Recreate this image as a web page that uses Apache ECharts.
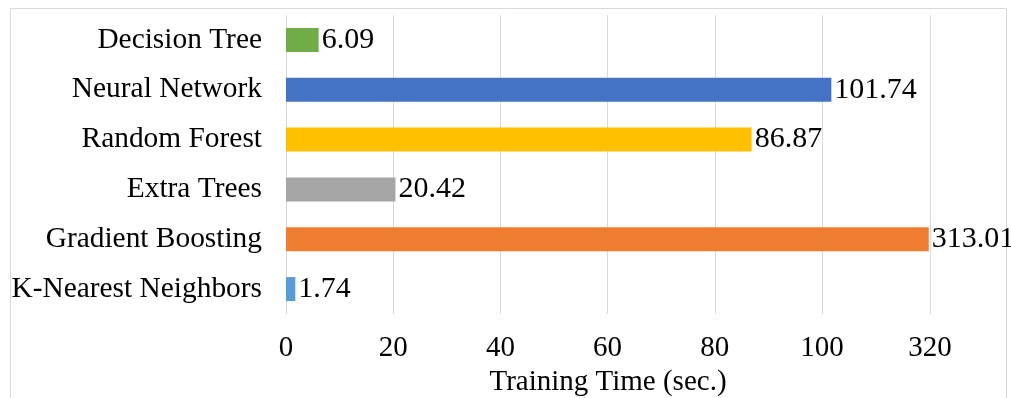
<!DOCTYPE html>
<html>
<head>
<meta charset="utf-8">
<script src="https://cdn.jsdelivr.net/npm/echarts@6/dist/echarts.min.js"></script>
<style>
  html, body { margin: 0; padding: 0; background: #fff; }
  #chart { width: 1011px; height: 398px; }
</style>
</head>
<body>
<div id="chart"></div>
<script>
// Training time per model (seconds)
const categories = ['Decision Tree', 'Neural Network', 'Random Forest', 'Extra Trees', 'Gradient Boosting', 'K-Nearest Neighbors'];
const trainingTimes = [6.09, 101.74, 86.87, 20.42, 313.01, 1.74];
const barColors = ['#70AD47', '#4472C4', '#FFC000', '#A5A5A5', '#ED7D31', '#5B9BD5'];
const tickValues = [0, 20, 40, 60, 80, 100, 320];

const FONT = "'Liberation Serif', 'Times New Roman', serif";

const chart = echarts.init(document.getElementById('chart'), null, { renderer: 'canvas' });

chart.setOption({
  backgroundColor: '#fff',
  animation: false,
  textStyle: { fontFamily: FONT, color: '#000' },
  graphic: [{
    type: 'rect',
    shape: { x: 10.5, y: 8.5, width: 996, height: 400 },
    style: { fill: 'none', stroke: '#d9d9d9', lineWidth: 1 },
    silent: true,
    z: -1
  }],
  grid: { left: 286, right: 81, top: 15, bottom: 84, outerBoundsMode: 'none' },
  xAxis: {
    type: 'value',
    min: 0,
    max: 320,
    // long empty stretch between 100 and the slowest model is collapsed
    breaks: [
      { start: 119, end: 313.0, gap: 0.9 },
      { start: 313.02, end: 319.98, gap: 0.2 }
    ],
    breakArea: { show: false },
    name: 'Training Time (sec.)',
    nameLocation: 'middle',
    nameGap: 54,
    nameTextStyle: { fontFamily: FONT, fontSize: 29, color: '#000' },
    axisLine: { show: false },
    axisTick: { show: false, customValues: tickValues },
    axisLabel: {
      customValues: tickValues,
      fontFamily: FONT, fontSize: 29, color: '#000', margin: 20,
      formatter: v => String(v)
    },
    splitLine: { show: true, lineStyle: { color: '#d9d9d9', width: 1 } }
  },
  yAxis: {
    type: 'category',
    data: categories,
    inverse: true,
    axisLine: { show: false },
    axisTick: { show: false },
    axisLabel: { fontFamily: FONT, fontSize: 29.4, color: '#000', margin: 24, padding: [4, 0, 0, 0] },
    splitLine: { show: false }
  },
  series: [{
    type: 'bar',
    barWidth: 24,
    data: trainingTimes.map((v, i) => ({ value: v, itemStyle: { color: barColors[i] } })),
    label: {
      show: true,
      position: 'right',
      distance: 3,
      padding: [4, 0, 0, 0],
      fontFamily: FONT,
      fontSize: 30,
      color: '#000',
      formatter: p => p.value.toFixed(2)
    }
  }]
});
</script>
</body>
</html>
